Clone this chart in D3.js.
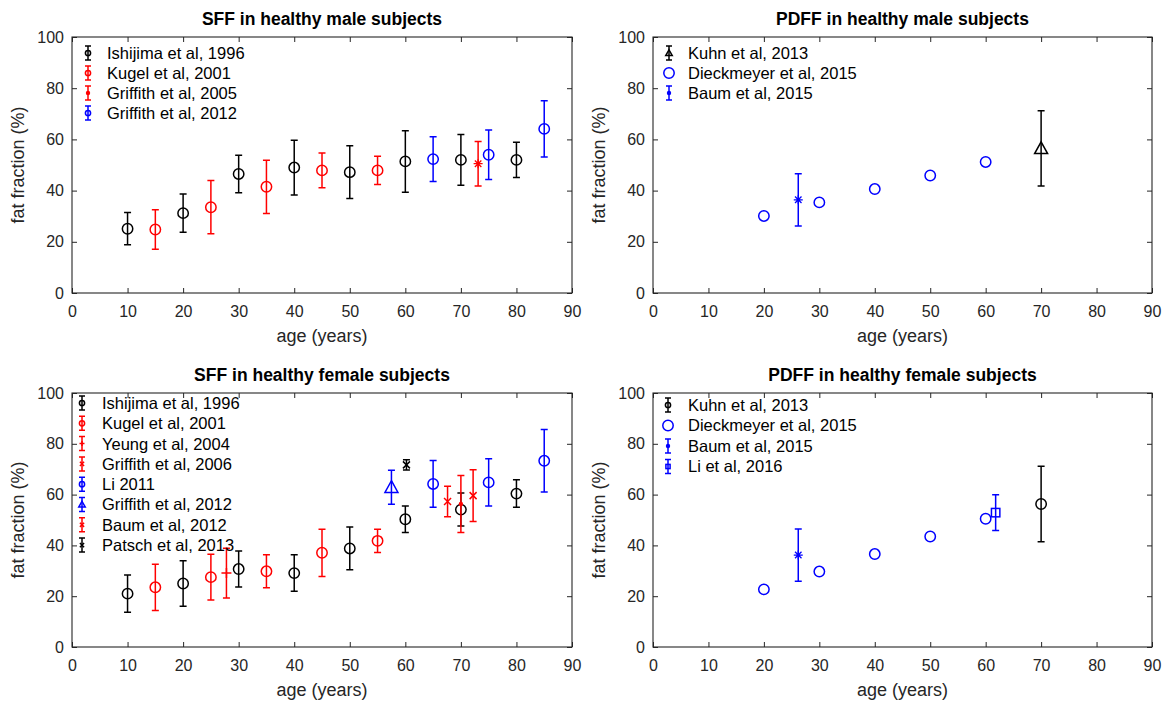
<!DOCTYPE html>
<html><head><meta charset="utf-8">
<script src="https://cdn.jsdelivr.net/npm/d3@7"></script>
<style>body{margin:0;background:#fff;} svg{display:block;font-family:"Liberation Sans",Arial,Helvetica,sans-serif;}</style>
</head><body>
<svg id="chart" width="1164" height="701"></svg>
<script>
// ---------- DATA ----------
const xTicks = [0,10,20,30,40,50,60,70,80,90];
const yTicks = [0,20,40,60,80,100];

// SFF male
const sffM_ishijima_age = [10,20,30,40,50,60,70,80];
const sffM_ishijima_ff  = [25.1,31.2,46.5,49.0,47.2,51.4,52.0,52.0];
const sffM_ishijima_err = [6.3,7.5,7.3,10.7,10.3,12.0,9.9,6.9];
const sffM_kugel_age = [15,25,35,45,55];
const sffM_kugel_ff  = [24.8,33.5,41.5,47.9,47.9];
const sffM_kugel_err = [7.7,10.4,10.4,6.8,5.5];
const sffM_griff05_age = [73.1];
const sffM_griff05_ff  = [50.5];
const sffM_griff05_err = [8.7];
const sffM_griff12_age = [65,75,85];
const sffM_griff12_ff  = [52.3,54.0,64.1];
const sffM_griff12_err = [8.7,9.7,11.0];

// PDFF male
const pdffM_kuhn_age = [70];
const pdffM_kuhn_ff  = [56.5];
const pdffM_kuhn_err = [14.7];
const pdffM_dieck_age = [20,30,40,50,60];
const pdffM_dieck_ff  = [30.1,35.4,40.6,45.9,51.2];
const pdffM_baum_age = [26.2];
const pdffM_baum_ff  = [36.4];
const pdffM_baum_err = [10.2];

// SFF female
const sffF_ishijima_age = [10,20,30,40,50,60,70,80];
const sffF_ishijima_ff  = [21.0,25.0,30.7,29.1,38.8,50.3,54.1,60.4];
const sffF_ishijima_err = [7.3,9.0,7.1,7.2,8.4,5.2,6.5,5.4];
const sffF_kugel_age = [15,25,35,45,55];
const sffF_kugel_ff  = [23.5,27.5,29.8,37.1,41.8];
const sffF_kugel_err = [9.1,9.0,6.5,9.3,4.6];
const sffF_yeung_age = [27.8];
const sffF_yeung_ff  = [29.1];
const sffF_yeung_err = [9.8];
const sffF_griff06_age = [70];
const sffF_griff06_ff  = [56.3];
const sffF_griff06_err = [11.2];
const sffF_li_age = [65,75,85];
const sffF_li_ff  = [64.2,64.8,73.3];
const sffF_li_err = [9.2,9.3,12.3];
const sffF_griff12_age = [57.5];
const sffF_griff12_ff  = [62.9];
const sffF_griff12_err = [6.7];
const sffF_baum_age = [67.6,72.2];
const sffF_baum_ff  = [57.3,59.6];
const sffF_baum_err = [6.0,10.2];
const sffF_patsch_age = [60.2];
const sffF_patsch_ff  = [71.7];
const sffF_patsch_err = [2.0];

// PDFF female
const pdffF_kuhn_age = [70];
const pdffF_kuhn_ff  = [56.3];
const pdffF_kuhn_err = [14.9];
const pdffF_dieck_age = [20,30,40,50,60];
const pdffF_dieck_ff  = [22.7,29.7,36.6,43.5,50.5];
const pdffF_baum_age = [26.2];
const pdffF_baum_ff  = [36.2];
const pdffF_baum_err = [10.3];
const pdffF_li_age = [61.8];
const pdffF_li_ff  = [52.9];
const pdffF_li_err = [7.0];

// ---------- STYLE / LAYOUT ----------
const BLACK = "#000000", RED = "#ff0000", BLUE = "#0000ff", AXC = "#262626";
const S = (name,color,marker,ages,ff,err,legMarker) => ({name,color,marker,ages,ff,err,legMarker:legMarker||marker});

const panels = [
  {x0:72,x1:572,y0:37,y1:293,title:"SFF in healthy male subjects",
   leg:{mx:16,tx:35,ty:16,dy:20},
   series:[
    S("Ishijima et al, 1996",BLACK,"circle",sffM_ishijima_age,sffM_ishijima_ff,sffM_ishijima_err),
    S("Kugel et al, 2001",RED,"circle",sffM_kugel_age,sffM_kugel_ff,sffM_kugel_err),
    S("Griffith et al, 2005",RED,"asterisk",sffM_griff05_age,sffM_griff05_ff,sffM_griff05_err,"dot"),
    S("Griffith et al, 2012",BLUE,"circle",sffM_griff12_age,sffM_griff12_ff,sffM_griff12_err)
   ]},
  {x0:653,x1:1152,y0:37,y1:293,title:"PDFF in healthy male subjects",
   leg:{mx:16,tx:35,ty:16,dy:20},
   series:[
    S("Kuhn et al, 2013",BLACK,"triangle",pdffM_kuhn_age,pdffM_kuhn_ff,pdffM_kuhn_err),
    S("Dieckmeyer et al, 2015",BLUE,"circle",pdffM_dieck_age,pdffM_dieck_ff,null),
    S("Baum et al, 2015",BLUE,"asterisk",pdffM_baum_age,pdffM_baum_ff,pdffM_baum_err,"dot")
   ]},
  {x0:72,x1:572,y0:393,y1:647,title:"SFF in healthy female subjects",
   leg:{mx:10,tx:30,ty:10,dy:20.3},
   series:[
    S("Ishijima et al, 1996",BLACK,"circle",sffF_ishijima_age,sffF_ishijima_ff,sffF_ishijima_err),
    S("Kugel et al, 2001",RED,"circle",sffF_kugel_age,sffF_kugel_ff,sffF_kugel_err),
    S("Yeung et al, 2004",RED,"plus",sffF_yeung_age,sffF_yeung_ff,sffF_yeung_err),
    S("Griffith et al, 2006",RED,"dot",sffF_griff06_age,sffF_griff06_ff,sffF_griff06_err,"x"),
    S("Li 2011",BLUE,"circle",sffF_li_age,sffF_li_ff,sffF_li_err),
    S("Griffith et al, 2012",BLUE,"triangle",sffF_griff12_age,sffF_griff12_ff,sffF_griff12_err),
    S("Baum et al, 2012",RED,"x",sffF_baum_age,sffF_baum_ff,sffF_baum_err),
    S("Patsch et al, 2013",BLACK,"x",sffF_patsch_age,sffF_patsch_ff,sffF_patsch_err)
   ]},
  {x0:653,x1:1152,y0:393,y1:647,title:"PDFF in healthy female subjects",
   leg:{mx:15,tx:35,ty:12,dy:20.5},
   series:[
    S("Kuhn et al, 2013",BLACK,"circle",pdffF_kuhn_age,pdffF_kuhn_ff,pdffF_kuhn_err),
    S("Dieckmeyer et al, 2015",BLUE,"circle",pdffF_dieck_age,pdffF_dieck_ff,null),
    S("Baum et al, 2015",BLUE,"asterisk",pdffF_baum_age,pdffF_baum_ff,pdffF_baum_err,"dot"),
    S("Li et al, 2016",BLUE,"square",pdffF_li_age,pdffF_li_ff,pdffF_li_err)
   ]}
];

const svg = d3.select("#chart");

function drawMarker(g, type, cx, cy, color, k){
  const sw = 1.5;
  if(type==="circle"){
    g.append("circle").attr("cx",cx).attr("cy",cy).attr("r",5.2*k)
      .attr("fill","none").attr("stroke",color).attr("stroke-width",sw);
  } else if(type==="dot"){
    g.append("circle").attr("cx",cx).attr("cy",cy).attr("r",2.2*Math.min(1,k*2))
      .attr("fill",color).attr("stroke","none");
  } else if(type==="triangle"){
    const h=6.5*k;
    g.append("path").attr("d",`M${cx},${cy-h}L${cx+h},${cy+h*0.8}L${cx-h},${cy+h*0.8}Z`)
      .attr("fill","none").attr("stroke",color).attr("stroke-width",sw).attr("stroke-linejoin","miter");
  } else if(type==="square"){
    const h=4.2*k;
    g.append("rect").attr("x",cx-h).attr("y",cy-h).attr("width",2*h).attr("height",2*h)
      .attr("fill","none").attr("stroke",color).attr("stroke-width",sw);
  } else if(type==="plus"){
    const h=5*k;
    g.append("path").attr("d",`M${cx-h},${cy}H${cx+h}M${cx},${cy-h}V${cy+h}`)
      .attr("stroke",color).attr("stroke-width",sw);
  } else if(type==="x"){
    const h=3.5*Math.max(k,0.6);
    g.append("path").attr("d",`M${cx-h},${cy-h}L${cx+h},${cy+h}M${cx-h},${cy+h}L${cx+h},${cy-h}`)
      .attr("stroke",color).attr("stroke-width",sw);
  } else if(type==="asterisk"){
    const h=4.5*k, d=h*0.72;
    g.append("path").attr("d",`M${cx-h},${cy}H${cx+h}M${cx},${cy-h}V${cy+h}M${cx-d},${cy-d}L${cx+d},${cy+d}M${cx-d},${cy+d}L${cx+d},${cy-d}`)
      .attr("stroke",color).attr("stroke-width",1.3);
  }
}

function errorBar(g, cx, yTop, yBot, color, cap){
  g.append("path")
    .attr("d",`M${cx},${yTop}V${yBot}M${cx-cap},${yTop}H${cx+cap}M${cx-cap},${yBot}H${cx+cap}`)
    .attr("stroke",color).attr("stroke-width",1.5).attr("fill","none");
}

panels.forEach(p=>{
  const x = d3.scaleLinear().domain([0,90]).range([p.x0,p.x1]);
  const y = d3.scaleLinear().domain([0,100]).range([p.y1,p.y0]);
  const g = svg.append("g");

  const tickLen = 5;
  const axB = d3.axisBottom(x).tickValues(xTicks).tickSize(-tickLen).tickPadding(9).tickFormat(d3.format("d"));
  const axT = d3.axisTop(x).tickValues(xTicks).tickSize(-tickLen).tickFormat("");
  const axL = d3.axisLeft(y).tickValues(yTicks).tickSize(-tickLen).tickPadding(8).tickFormat(d3.format("d"));
  const axR = d3.axisRight(y).tickValues(yTicks).tickSize(-tickLen).tickFormat("");
  const gb = g.append("g").attr("transform",`translate(0,${p.y1})`).call(axB);
  const gt = g.append("g").attr("transform",`translate(0,${p.y0})`).call(axT);
  const gl = g.append("g").attr("transform",`translate(${p.x0},0)`).call(axL);
  const gr = g.append("g").attr("transform",`translate(${p.x1},0)`).call(axR);
  [gb,gt,gl,gr].forEach(a=>{
    a.selectAll(".domain").remove();
    a.selectAll(".tick line").attr("stroke",AXC).attr("stroke-width",1);
    a.selectAll(".tick text").attr("fill",AXC).style("font-size","16px").style("font-family","'Liberation Sans',Arial,sans-serif");
  });
  gb.selectAll(".tick text").attr("dy","0.95em");
  g.append("rect").attr("x",p.x0).attr("y",p.y0).attr("width",p.x1-p.x0).attr("height",p.y1-p.y0)
    .attr("fill","none").attr("stroke",AXC).attr("stroke-width",1.1);

  g.append("text").attr("x",(p.x0+p.x1)/2).attr("y",p.y0-12).attr("text-anchor","middle")
    .style("font-size","17.5px").style("font-weight","bold").attr("fill","#000").text(p.title);
  g.append("text").attr("x",(p.x0+p.x1)/2).attr("y",p.y1+49).attr("text-anchor","middle")
    .style("font-size","18px").attr("fill",AXC).text("age (years)");
  g.append("text").attr("transform",`translate(${p.x0-48},${(p.y0+p.y1)/2}) rotate(-90)`)
    .attr("text-anchor","middle").style("font-size","18px").attr("fill",AXC).text("fat fraction (%)");

  const dg = g.append("g");
  p.series.forEach(s=>{
    s.ages.forEach((a,i)=>{
      const cx = x(a), cy = y(s.ff[i]);
      if(s.err){
        errorBar(dg, cx, y(s.ff[i]+s.err[i]), y(s.ff[i]-s.err[i]), s.color, 3.5);
      }
      drawMarker(dg, s.marker, cx, cy, s.color, 1);
    });
  });

  const lg = g.append("g");
  p.series.forEach((s,i)=>{
    const ly = p.y0 + p.leg.ty + i*p.leg.dy;
    const lx = p.x0 + p.leg.mx;
    if(s.err){
      errorBar(lg, lx, ly-7, ly+7, s.color, 3);
      drawMarker(lg, s.legMarker, lx, ly, s.color, 0.5);
    } else {
      drawMarker(lg, s.legMarker, lx, ly, s.color, 1);
    }
    lg.append("text").attr("x",p.x0+p.leg.tx).attr("y",ly).attr("dy","0.36em")
      .style("font-size","16.5px").attr("fill","#000").text(s.name);
  });
});
</script>
</body></html>
